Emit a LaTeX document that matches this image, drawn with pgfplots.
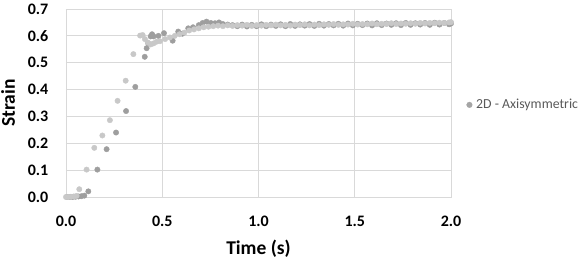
\documentclass[border=0pt]{standalone}
\usepackage{pgfplots}
\pgfplotsset{compat=1.18}
\usepackage{fontspec}
\setmainfont{Carlito}
\definecolor{darkpt}{HTML}{9E9E9E}
\definecolor{lightpt}{HTML}{C8C8C8}
\definecolor{legpt}{HTML}{A5A5A5}
\definecolor{gridc}{HTML}{D9D9D9}
\definecolor{legtext}{HTML}{595959}
\begin{document}
\begin{tikzpicture}
\begin{axis}[
  scale only axis, width=385pt, height=188pt,
  xmin=0, xmax=2, ymin=0, ymax=0.7,
  xtick={0,0.5,1,1.5,2}, ytick={0,0.1,0.2,0.3,0.4,0.5,0.6,0.7},
  grid=major, major grid style={draw=gridc, line width=0.9pt},
  axis line style={draw=gridc, line width=0.9pt},
  major tick length=0pt,
  /pgf/number format/assume math mode=true,
  /pgf/number format/fixed, /pgf/number format/fixed zerofill, /pgf/number format/precision=1,
  tick label style={font=\bfseries\fontsize{16}{16}\selectfont, text=black, inner sep=0pt},
  yticklabel style={anchor=east, xshift=-17.5pt},
  xticklabel style={anchor=base, yshift=-29.5pt},
  xlabel={Time (s)}, ylabel={Strain},
  xlabel style={font=\bfseries\fontsize{19.5}{20}\selectfont, at={(axis description cs:0.5,-0.3085)}, anchor=base, inner sep=0pt},
  ylabel style={font=\bfseries\fontsize{19.5}{20}\selectfont, at={(axis description cs:-0.1325,0.5)}, anchor=base, inner sep=0pt},
  legend style={at={(1.037,0.49)}, anchor=west, draw=none, fill=none, font=\fontsize{13.8}{14}\selectfont, text=legtext, inner sep=1pt},
  legend image code/.code={\path[draw=none, fill=none] (0pt,-2.8pt) rectangle (7.6pt,2.8pt); \fill[legpt] (2.8pt,0pt) circle (2.8pt);},
  clip=false,
]
\addplot[only marks, mark=*, mark size=2.7pt, color=darkpt] table {
0.005 0.000
0.020 0.000
0.035 0.000
0.050 0.001
0.065 0.002
0.080 0.003
0.095 0.005
0.116 0.021
0.163 0.102
0.211 0.178
0.260 0.240
0.312 0.320
0.360 0.410
0.409 0.522
0.419 0.554
0.427 0.572
0.440 0.598
0.447 0.606
0.455 0.598
0.480 0.600
0.509 0.610
0.554 0.582
0.583 0.616
0.605 0.608
0.635 0.628
0.660 0.632
0.690 0.640
0.710 0.648
0.730 0.653
0.752 0.648
0.774 0.647
0.795 0.650
0.815 0.644
0.840 0.642
0.865 0.640
0.890 0.636
0.915 0.642
0.940 0.635
0.965 0.641
0.990 0.636
1.015 0.643
1.040 0.636
1.065 0.642
1.090 0.637
1.115 0.643
1.140 0.636
1.165 0.644
1.190 0.637
1.215 0.643
1.240 0.638
1.265 0.644
1.290 0.637
1.315 0.645
1.340 0.638
1.365 0.644
1.390 0.639
1.415 0.645
1.440 0.638
1.465 0.646
1.490 0.639
1.515 0.645
1.540 0.640
1.565 0.646
1.590 0.639
1.615 0.647
1.640 0.640
1.665 0.646
1.690 0.641
1.715 0.647
1.740 0.640
1.765 0.648
1.790 0.641
1.815 0.647
1.840 0.642
1.865 0.648
1.890 0.641
1.915 0.649
1.940 0.642
1.965 0.648
1.990 0.643
2.000 0.646
};
\addlegendentry{2D - Axisymmetric}
\addplot[only marks, mark=*, mark size=2.7pt, color=lightpt, forget plot] table {
0.000 0.000
0.012 0.000
0.025 0.001
0.040 0.002
0.055 0.004
0.069 0.029
0.107 0.102
0.147 0.183
0.189 0.229
0.228 0.286
0.268 0.358
0.310 0.433
0.350 0.532
0.385 0.601
0.398 0.603
0.410 0.588
0.425 0.575
0.440 0.568
0.455 0.572
0.470 0.578
0.488 0.580
0.515 0.588
0.540 0.594
0.565 0.600
0.590 0.606
0.615 0.612
0.640 0.620
0.665 0.624
0.690 0.628
0.715 0.632
0.740 0.634
0.765 0.636
0.790 0.638
0.815 0.636
0.840 0.639
0.865 0.637
0.890 0.640
0.915 0.638
0.940 0.641
0.965 0.637
0.990 0.640
1.015 0.638
1.040 0.641
1.065 0.639
1.090 0.642
1.115 0.639
1.140 0.641
1.165 0.638
1.190 0.642
1.215 0.640
1.240 0.643
1.265 0.639
1.290 0.642
1.315 0.640
1.340 0.643
1.365 0.641
1.390 0.644
1.415 0.641
1.440 0.643
1.465 0.642
1.490 0.645
1.515 0.642
1.540 0.644
1.565 0.643
1.590 0.646
1.615 0.643
1.640 0.645
1.665 0.644
1.690 0.647
1.715 0.644
1.740 0.646
1.765 0.645
1.790 0.647
1.815 0.645
1.840 0.648
1.865 0.646
1.890 0.648
1.915 0.647
1.940 0.649
1.965 0.648
1.990 0.650
2.000 0.651
};
\end{axis}
\pgfresetboundingbox
\path ([shift={(-66pt,-62pt)}]current axis.south west) rectangle ([shift={(137pt,9pt)}]current axis.north east);
\end{tikzpicture}
\end{document}
